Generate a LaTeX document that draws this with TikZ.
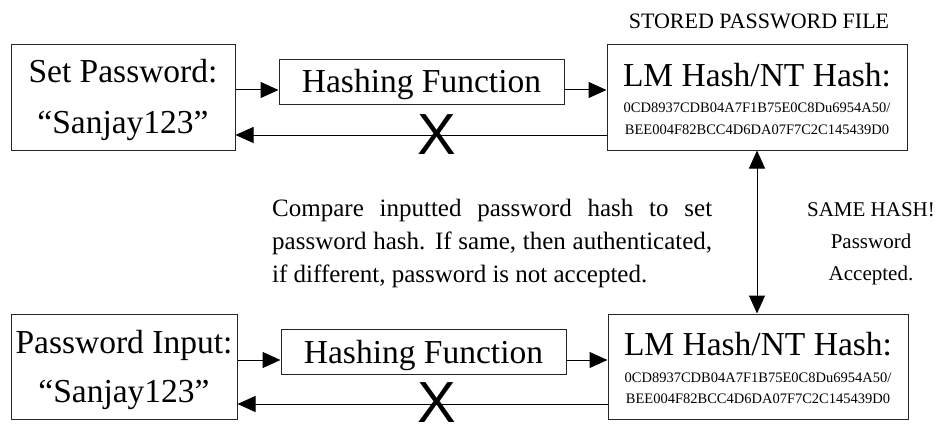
\documentclass[tikz,border=0pt]{standalone}
\usepackage{fontspec}
\setmainfont{Liberation Serif}
\newfontfamily\xfont{Liberation Sans}
\usetikzlibrary{arrows.meta}
\begin{document}
\begin{tikzpicture}[x=1pt,y=-1pt,
  box/.style={draw=black!85, line width=1pt, inner sep=0pt},
  bigbox/.style={box, minimum width=#1, minimum height=105pt},
  hashbox/.style={box, minimum width=285pt, minimum height=45pt},
  big/.style={inner sep=0pt, anchor=base, font=\fontsize{33.5}{33.5}\selectfont},
  small/.style={inner sep=0pt, anchor=base, font=\fontsize{14.5}{14.5}\selectfont},
  xmark/.style={inner sep=0pt, font=\xfont\fontsize{58}{58}\selectfont},
  arr/.style={line width=1pt, -{Triangle[length=18pt,width=16pt]}},
  darr/.style={line width=1pt, {Triangle[length=18pt,width=16pt]}-{Triangle[length=18pt,width=16pt]}}
]
\path[use as bounding box, fill=white] (0,0) rectangle (952,425);

% top row
\node[bigbox=224pt] (sp1) at (123,97.5) {};
\node[big] (sp1a) at (123,83) {Set Password:};
\node[big] (sp1b) at (123,133) {“Sanjay123”};
\node[hashbox] (hf1) at (421.5,82.5) {};
\node[big] (hf1t) at (421.5,93) {Hashing Function};
\node[bigbox=300pt] (lm1) at (757,97.5) {};
\node[big] (lm1a) at (757,87) {LM Hash/NT Hash:};
\node[small] (lm1b) at (757,113) {0CD8937CDB04A7F1B75E0C8Du6954A50/};
\node[small] (lm1c) at (757,134.5) {BEE004F82BCC4D6DA07F7C2C145439D0};
\node[inner sep=0pt, anchor=base, font=\fontsize{22}{22}\selectfont] (spf) at (759,29) {STORED PASSWORD FILE};

\draw[arr] (sp1.east |- 0,90) -- (hf1.west |- 0,90);
\draw[arr] (hf1.east |- 0,90) -- (lm1.west |- 0,90);
\draw[arr] (lm1.west |- 0,135) -- (sp1.east |- 0,135);
\node[xmark] (x1) at (437,135) {X};

% bottom row
\node[bigbox=226pt] (sp2) at (124,366.5) {};
\node[big] (sp2a) at (124,353) {Password Input:};
\node[big] (sp2b) at (124,402) {“Sanjay123”};
\node[hashbox] (hf2) at (423.5,352) {};
\node[big] (hf2t) at (423.5,363) {Hashing Function};
\node[bigbox=300pt] (lm2) at (758,366.5) {};
\node[big] (lm2a) at (758,355) {LM Hash/NT Hash:};
\node[small] (lm2b) at (758,382) {0CD8937CDB04A7F1B75E0C8Du6954A50/};
\node[small] (lm2c) at (758,403.5) {BEE004F82BCC4D6DA07F7C2C145439D0};

\draw[arr] (sp2.east |- 0,360) -- (hf2.west |- 0,360);
\draw[arr] (hf2.east |- 0,360) -- (lm2.west |- 0,360);
\draw[arr] (lm2.west |- 0,404) -- (sp2.east |- 0,404);
\node[xmark] (x2) at (437,403) {X};

% comparison
\draw[darr] (lm1.south) -- (lm1.south |- lm2.north);
\node[inner sep=0pt, anchor=north west, text width=440pt, align=justify,
      font=\fontsize{25}{33}\selectfont] (cmp) at (272,199)
  {\hyphenpenalty=10000\exhyphenpenalty=10000 Compare inputted password hash to set\linebreak password hash. If same, then authenticated,\linebreak if different, password is not accepted.};
\node[inner sep=0pt, anchor=base, align=center, font=\fontsize{21}{32}\selectfont] (same) at (871,280)
  {SAME HASH!\\Password\\Accepted.};
\end{tikzpicture}
\end{document}
